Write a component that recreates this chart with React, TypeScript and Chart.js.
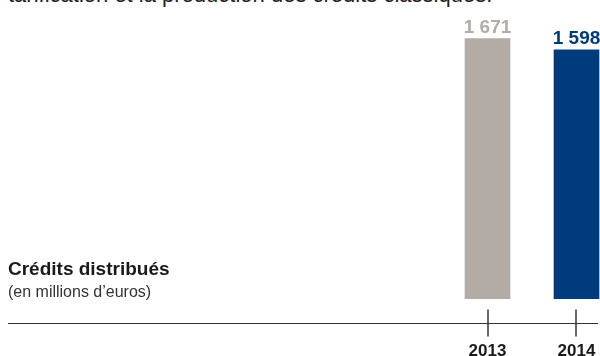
import React, { useEffect, useRef } from 'react';
import { Chart, registerables } from 'chart.js';

Chart.register(...registerables);

const years: number[] = [2013, 2014];
const credits: number[] = [1671, 1598];
const barColors: string[] = ['#B3ABA5', '#003B7C'];
const headline = 'tarification et la production des crédits classiques.';
const title = 'Crédits distribués';
const subtitle = '(en millions d\u2019euros)';

const fmt = (v: number) => String(v).replace(/\B(?=(\d{3})+(?!\d))/g, ' ');
const FONT = '"Liberation Sans", Arial, sans-serif';

const overlay = {
  id: 'overlay',
  afterDatasetsDraw(chart: any) {
    const { ctx } = chart;
    const meta = chart.getDatasetMeta(0);
    ctx.save();
    ctx.font = `bold 19px ${FONT}`;
    ctx.textAlign = 'center';
    ctx.textBaseline = 'alphabetic';
    meta.data.forEach((bar: any, i: number) => {
      ctx.fillStyle = barColors[i];
      ctx.fillText(fmt(credits[i]), bar.x, bar.y - 6);
    });
    const xs = chart.scales.x;
    const axisY = Math.round(chart.chartArea.bottom + 24) + 0.5;
    ctx.strokeStyle = '#333';
    ctx.lineWidth = 1;
    ctx.beginPath();
    ctx.moveTo(xs.left, axisY);
    ctx.lineTo(xs.right, axisY);
    ctx.stroke();
    ctx.lineWidth = 1.5;
    years.forEach((y) => {
      const px = Math.round(xs.getPixelForValue(y));
      ctx.beginPath();
      ctx.moveTo(px, axisY - 14);
      ctx.lineTo(px, axisY + 13);
      ctx.stroke();
    });
    ctx.restore();
  },
};

export default function App() {
  const ref = useRef<HTMLCanvasElement>(null);
  useEffect(() => {
    if (!ref.current) return;
    const chart = new Chart(ref.current, {
      type: 'bar',
      data: {
        datasets: [
          {
            data: years.map((y, i) => ({ x: y, y: credits[i] })),
            backgroundColor: barColors,
            barThickness: 45,
            borderWidth: 0,
            clip: false as any,
          },
        ],
      },
      options: {
        responsive: false,
        animation: false,
        layout: { padding: { left: 8, right: 2, top: 34, bottom: -6 } },
        plugins: { legend: { display: false }, tooltip: { enabled: false }, title: { display: false } },
        scales: {
          x: {
            type: 'linear',
            offset: false,
            min: 2007.612,
            max: 2014.2416,
            grid: { display: false, drawTicks: true, tickLength: 43, offset: false },
            border: { display: false },
            afterBuildTicks: (s: any) => {
              s.ticks = years.map((v) => ({ value: v }));
            },
            afterFit: (s: any) => {
              s.paddingLeft = 0;
              s.paddingRight = 0;
              s.paddingTop = 0;
              s.paddingBottom = 0;
            },
            ticks: {
              autoSkip: false,
              maxRotation: 0,
              padding: 0,
              color: '#1a1a1a',
              font: { family: FONT, size: 17, weight: 'bold' },
              callback: (v: any) => String(v),
            },
          },
          y: {
            display: false,
            min: 0,
            max: 1700,
          },
        },
      },
      plugins: [overlay],
    } as any);
    return () => chart.destroy();
  }, []);

  return (
    <div style={{ position: 'absolute', left: 0, top: 0, width: 600, height: 356, overflow: 'hidden', background: '#fff', fontFamily: FONT }}>
      <div style={{ position: 'absolute', left: 8, top: -17, fontSize: 22, lineHeight: '24px', color: '#222', whiteSpace: 'nowrap' }}>
        {headline}
      </div>
      <canvas ref={ref} width={600} height={356} style={{ position: 'absolute', left: 0, top: 0 }} />
      <div style={{ position: 'absolute', left: 8, top: 258, fontSize: 19, lineHeight: '22px', fontWeight: 'bold', color: '#1a1a1a', whiteSpace: 'nowrap' }}>
        {title}
      </div>
      <div style={{ position: 'absolute', left: 8, top: 282, fontSize: 16, lineHeight: '19px', color: '#333', whiteSpace: 'nowrap' }}>
        {subtitle}
      </div>
    </div>
  );
}
